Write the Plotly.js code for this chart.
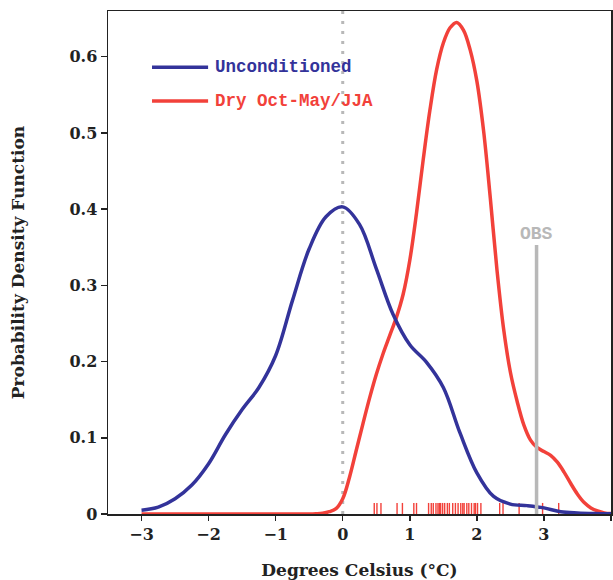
<!DOCTYPE html>
<html>
<head>
<meta charset="utf-8">
<script src="https://cdn.plot.ly/plotly-3.0.1.min.js"></script>
<style>html,body{margin:0;padding:0;background:#fff;}#chart{width:613px;height:580px;}</style>
</head>
<body>
<div id="chart"></div>
<script>
// Unconditioned PDF
const uncondX = [-3,-2.75,-2.5,-2.25,-2.0,-1.75,-1.5,-1.25,-1.0,-0.75,-0.5,-0.25,0,0.25,0.5,0.75,1.0,1.25,1.5,1.75,2.0,2.25,2.5,2.75,3.0,3.25,3.5,3.75,4.0];
const uncondY = [0.005,0.009,0.020,0.038,0.066,0.104,0.137,0.166,0.208,0.28,0.348,0.39,0.403,0.38,0.322,0.262,0.222,0.199,0.166,0.106,0.054,0.023,0.013,0.011,0.008,0.003,0.0013,0.0005,0.0002];
// Dry Oct-May/JJA PDF
const dryX = [-3,-2,-1,-0.5,-0.4,-0.3,-0.2,-0.1,0,0.1,0.2,0.3,0.4,0.5,0.6,0.7,0.8,0.9,1.0,1.1,1.2,1.3,1.4,1.5,1.6,1.7,1.8,1.9,2.0,2.1,2.2,2.3,2.4,2.5,2.6,2.7,2.8,2.9,3.0,3.1,3.2,3.3,3.4,3.5,3.6,3.7,3.8,3.9,4.0];
const dryY = [0,0,0,0,0.0003,0.001,0.003,0.007,0.02,0.048,0.083,0.118,0.152,0.183,0.21,0.234,0.258,0.288,0.333,0.395,0.465,0.53,0.583,0.618,0.638,0.645,0.635,0.609,0.568,0.503,0.415,0.32,0.242,0.186,0.148,0.117,0.097,0.087,0.082,0.077,0.068,0.055,0.04,0.026,0.015,0.008,0.004,0.0015,0.0005];
// Rug: Dry Oct-May/JJA sample values
const rugValues = [0.47,0.51,0.57,0.81,0.89,1.06,1.10,1.28,1.32,1.35,1.39,1.42,1.44,1.46,1.49,1.52,1.56,1.59,1.64,1.68,1.72,1.76,1.79,1.81,1.85,1.88,1.92,1.96,1.98,2.01,2.06,2.34,2.39,2.63,2.98,3.22];
const obsValue = 2.89;
const obsPdfTop = 0.353;
const seriesNames = ['Unconditioned','Dry Oct-May/JJA'];
const xTicks = [-3,-2,-1,0,1,2,3,4];
const yTicks = [0,0.1,0.2,0.3,0.4,0.5,0.6];

const BLUE = '#33339a', RED = '#f2413a', GREY = '#b8b8b8';
const rugH = 0.0145;
const rugX = [], rugY = [];
rugValues.forEach(v => { rugX.push(v, v, null); rugY.push(0, rugH, null); });

const traces = [
  {x: rugX, y: rugY, mode: 'lines', line: {color: RED, width: 1.4}, showlegend: false, hoverinfo: 'skip'},
  {x: dryX, y: dryY, mode: 'lines', line: {color: RED, width: 3.5, shape: 'spline', smoothing: 1}, name: seriesNames[1], showlegend: false},
  {x: uncondX, y: uncondY, mode: 'lines', line: {color: BLUE, width: 3.5, shape: 'spline', smoothing: 1}, name: seriesNames[0], showlegend: false}
];

const tickFont = {family: 'DejaVu Serif', size: 16, color: '#222', weight: 'bold'};
const titleFont = {family: 'DejaVu Serif', size: 17, color: '#222', weight: 'bold'};
const legFont = {family: 'Liberation Mono', size: 17.5, weight: 'bold'};

const layout = {
  width: 613, height: 580,
  margin: {l: 108, r: 2, t: 11, b: 66},
  paper_bgcolor: '#fff', plot_bgcolor: '#fff',
  showlegend: false,
  xaxis: {
    range: [-3.5, 4], tickvals: xTicks, ticktext: xTicks.map(v => v < 0 ? '\u2212' + Math.abs(v) : String(v)),
    ticks: 'outside', ticklen: 5, tickwidth: 1.5, tickcolor: '#222',
    showline: true, linecolor: '#222', linewidth: 1.5, mirror: true,
    showgrid: false, zeroline: false, tickfont: tickFont,
    title: {text: 'Degrees Celsius (\u00B0C)', font: titleFont, standoff: 21}
  },
  yaxis: {
    range: [0, 0.66], tickvals: yTicks, ticktext: yTicks.map(v => v === 0 ? '0' : v.toFixed(1)),
    ticks: 'outside', ticklen: 6, tickwidth: 1.5, tickcolor: '#222',
    showline: true, linecolor: '#222', linewidth: 1.5, mirror: true,
    showgrid: false, zeroline: false, tickfont: tickFont,
    title: {text: 'Probability Density Function', font: titleFont, standoff: 40}
  },
  shapes: [
    {type: 'line', xref: 'x', yref: 'paper', x0: 0, x1: 0, y0: 0, y1: 1, layer: 'below',
     line: {color: GREY, width: 3, dash: '3px,7px'}},
    {type: 'line', xref: 'x', yref: 'y', x0: obsValue, x1: obsValue, y0: 0, y1: obsPdfTop, layer: 'above',
     line: {color: GREY, width: 3.5}},
    {type: 'line', xref: 'paper', yref: 'paper', x0: 0.0875, x1: 0.199, y0: 0.888, y1: 0.888,
     line: {color: BLUE, width: 3.5}},
    {type: 'line', xref: 'paper', yref: 'paper', x0: 0.0875, x1: 0.199, y0: 0.821, y1: 0.821,
     line: {color: RED, width: 3.5}}
  ],
  annotations: [
    {xref: 'paper', yref: 'paper', x: 0.209, y: 0.888, xanchor: 'left', yanchor: 'middle', showarrow: false,
     text: seriesNames[0], font: Object.assign({color: BLUE}, legFont)},
    {xref: 'paper', yref: 'paper', x: 0.209, y: 0.821, xanchor: 'left', yanchor: 'middle', showarrow: false,
     text: seriesNames[1], font: Object.assign({color: RED}, legFont)},
    {xref: 'x', yref: 'y', x: obsValue, y: obsPdfTop, yanchor: 'bottom', xanchor: 'center', showarrow: false, yshift: -1,
     text: 'OBS', font: {family: 'Liberation Mono', size: 18, weight: 'bold', color: GREY}}
  ]
};

Plotly.newPlot('chart', traces, layout, {displayModeBar: false, staticPlot: true});
</script>
</body>
</html>
